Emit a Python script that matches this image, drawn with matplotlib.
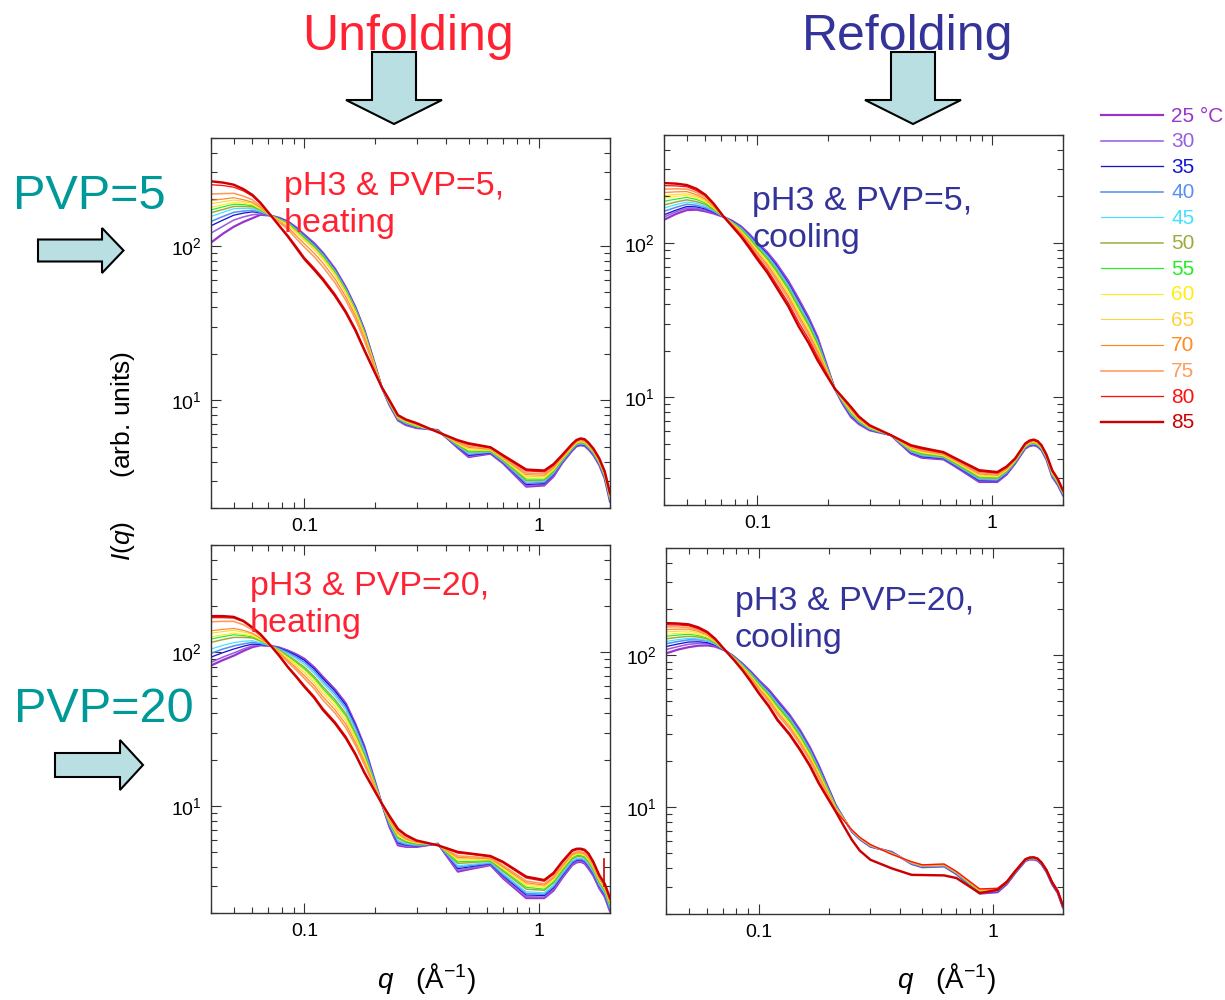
import numpy as np
import matplotlib
matplotlib.use('Agg')
import matplotlib.pyplot as plt
from matplotlib.patches import Polygon
from matplotlib.lines import Line2D
from matplotlib.transforms import Affine2D
from matplotlib.ticker import LogLocator, NullFormatter

plt.rcParams['font.family'] = ['Liberation Sans', 'DejaVu Sans']
plt.rcParams['mathtext.fontset'] = 'custom'
plt.rcParams['mathtext.rm'] = 'Liberation Sans'
plt.rcParams['mathtext.it'] = 'Liberation Sans:italic'

# temperature series (deg C) and their line styles
temps = [25, 30, 35, 40, 45, 50, 55, 60, 65, 70, 75, 80, 85]
colors = ['#9933cc', '#9a5fe0', '#1414d6', '#5b8ff5', '#44e0ff', '#a0aa3a', '#22ee22',
          '#ffee11', '#ffd23c', '#ff8a1e', '#ff9a5c', '#ff1010', '#cc0000']
widths = [2.2, 1.6, 1.3, 1.6, 1.2, 1.5, 1.2, 1.1, 1.1, 1.2, 1.6, 1.3, 2.4]  # px

# scattering vector q (1/A)
q = [0.04, 0.045, 0.05, 0.055, 0.06, 0.065, 0.072, 0.078, 0.085, 0.092, 0.1,
     0.11, 0.12, 0.135, 0.15, 0.165, 0.18, 0.195, 0.213, 0.23, 0.25, 0.27, 0.3,
     0.37, 0.45, 0.5, 0.62, 0.7, 0.88, 1.05, 1.15, 1.25, 1.38, 1.44, 1.5, 1.56,
     1.62, 1.7, 1.8, 1.9, 2.0]

# I(q): one row per q value, one column per temperature
heat5 = [
    [105, 121, 135, 144, 155, 164, 171, 178, 188, 197, 217, 249, 262],
    [120, 134, 147, 155, 165, 172, 179, 185, 193, 201, 218, 246, 257],
    [133, 147, 158, 165, 174, 180, 186, 191, 198, 205, 219, 240, 249],
    [143, 154, 163, 168, 175, 180, 185, 189, 194, 199, 210, 227, 233],
    [151, 159, 166, 170, 175, 179, 182, 185, 189, 192, 199, 210, 214],
    [159, 161, 164, 165, 167, 170, 171, 173, 175, 177, 181, 188, 190],
    [157, 157, 157, 157, 157, 157, 157, 157, 157, 157, 157, 157, 157],
    [152, 151, 151, 150, 149, 149, 148, 147, 146, 144, 142, 136, 135],
    [144, 143, 143, 142, 141, 140, 139, 138, 136, 132, 128, 117, 115],
    [132, 131, 130, 129, 128, 127, 126, 124, 122, 117, 112, 100, 97.5],
    [118, 117, 116, 115, 114, 113, 112, 110, 108, 103, 98, 84, 82],
    [104, 103, 102, 101, 100, 99, 98, 96.5, 94.5, 89.5, 85, 72, 70],
    [90, 89.3, 88.6, 87.8, 86.8, 85.7, 84.7, 83.3, 81.7, 77.2, 72.9, 61.7, 60],
    [71, 70.4, 69.9, 69.2, 68.4, 67.6, 66.8, 65.8, 64.5, 61, 57.7, 48.8, 47.4],
    [54, 53.6, 53.2, 52.8, 52.2, 51.6, 51, 50.3, 49.3, 46.8, 44.4, 38, 37],
    [40, 39.7, 39.5, 39.2, 38.8, 38.4, 38, 37.5, 36.8, 35.1, 33.4, 29, 28.2],
    [28.5, 28.3, 28.2, 28, 27.7, 27.5, 27.2, 26.9, 26.5, 25.4, 24.3, 21.5, 21],
    [19.2, 19.0, 18.9, 18.8, 18.7, 18.7, 18.6, 18.5, 18.3, 17.9, 17.5, 16.4, 16.2],
    [12.2, 12.2, 12.2, 12.2, 12.2, 12.2, 12.2, 12.2, 12.2, 12.2, 12.2, 12.2, 12.2],
    [9.3, 9.35, 9.4, 9.45, 9.5, 9.55, 9.6, 9.65, 9.7, 9.75, 9.8, 9.9, 10.0],
    [7.4, 7.43, 7.47, 7.52, 7.56, 7.61, 7.66, 7.71, 7.76, 7.82, 7.88, 7.96, 8.0],
    [6.9, 6.95, 7.0, 7.05, 7.1, 7.15, 7.2, 7.25, 7.3, 7.35, 7.4, 7.45, 7.5],
    [6.6, 6.63, 6.66, 6.7, 6.73, 6.77, 6.81, 6.85, 6.89, 6.94, 6.99, 7.05, 7.1],
    [6.4, 6.39, 6.38, 6.36, 6.34, 6.33, 6.31, 6.29, 6.28, 6.26, 6.24, 6.22, 6.2],
    [4.9, 4.92, 4.97, 5.01, 5.06, 5.1, 5.15, 5.2, 5.25, 5.31, 5.37, 5.44, 5.5],
    [4.28, 4.33, 4.39, 4.46, 4.53, 4.61, 4.68, 4.76, 4.84, 4.94, 5.04, 5.17, 5.25],
    [4.5, 4.53, 4.55, 4.59, 4.62, 4.66, 4.69, 4.73, 4.77, 4.81, 4.86, 4.91, 4.95],
    [3.9, 3.93, 3.96, 3.99, 4.03, 4.07, 4.11, 4.15, 4.19, 4.23, 4.28, 4.34, 4.4],
    [2.75, 2.79, 2.84, 2.89, 2.95, 3.01, 3.08, 3.14, 3.21, 3.29, 3.37, 3.48, 3.55],
    [2.8, 2.84, 2.88, 2.93, 2.98, 3.03, 3.08, 3.13, 3.19, 3.26, 3.34, 3.43, 3.5],
    [3.2, 3.25, 3.3, 3.34, 3.39, 3.44, 3.48, 3.53, 3.58, 3.64, 3.71, 3.78, 3.85],
    [3.9, 3.93, 3.96, 3.99, 4.03, 4.07, 4.11, 4.15, 4.19, 4.23, 4.28, 4.34, 4.4],
    [4.7, 4.73, 4.76, 4.8, 4.83, 4.87, 4.91, 4.95, 4.99, 5.04, 5.09, 5.15, 5.2],
    [5.02, 5.05, 5.08, 5.12, 5.16, 5.2, 5.24, 5.28, 5.32, 5.37, 5.42, 5.47, 5.52],
    [5.1, 5.13, 5.16, 5.2, 5.24, 5.29, 5.33, 5.37, 5.41, 5.47, 5.52, 5.58, 5.65],
    [5.05, 5.08, 5.11, 5.15, 5.19, 5.23, 5.27, 5.31, 5.35, 5.41, 5.46, 5.52, 5.58],
    [4.8, 4.83, 4.86, 4.9, 4.93, 4.97, 5.01, 5.05, 5.09, 5.14, 5.19, 5.24, 5.3],
    [4.4, 4.43, 4.46, 4.5, 4.53, 4.57, 4.6, 4.64, 4.67, 4.71, 4.75, 4.8, 4.85],
    [3.8, 3.82, 3.85, 3.88, 3.91, 3.94, 3.97, 4.0, 4.03, 4.07, 4.11, 4.16, 4.2],
    [3.1, 3.13, 3.15, 3.18, 3.2, 3.23, 3.25, 3.28, 3.3, 3.33, 3.36, 3.4, 3.45],
    [2.2, 2.22, 2.23, 2.26, 2.28, 2.3, 2.32, 2.34, 2.37, 2.4, 2.42, 2.46, 2.5],
]

cool5 = [
    [141, 147, 152, 160, 168, 176, 186, 195, 202, 212, 223, 235, 244],
    [154, 159, 163, 170, 177, 184, 192, 200, 206, 214, 224, 234, 242],
    [163, 168, 172, 178, 184, 190, 197, 203, 208, 215, 223, 231, 237],
    [164, 167, 171, 175, 180, 185, 191, 196, 200, 205, 212, 218, 224],
    [160, 163, 166, 169, 173, 177, 181, 185, 188, 192, 197, 202, 205],
    [155, 157, 158, 160, 162, 164, 166, 168, 170, 172, 175, 178, 180],
    [147, 147, 147, 147, 147, 147, 147, 147, 147, 147, 147, 147, 147],
    [139, 138, 138, 137, 136, 135.5, 135, 134, 133, 132, 131, 130, 128],
    [128, 127, 126.5, 125.3, 124.2, 122.9, 121.6, 120.1, 118.7, 116.9, 115.1, 112.5, 110],
    [114.5, 113.5, 112.5, 111, 110, 108.5, 107, 105, 103.5, 101.5, 99.5, 96.5, 93.5],
    [100, 99, 98, 96.6, 95.2, 93.5, 91.9, 90.1, 88.3, 86.1, 84, 81, 78],
    [86.9, 85.9, 84.8, 83.3, 81.9, 80.1, 78.4, 76.6, 74.7, 72.5, 70.3, 67.2, 64.3],
    [74, 73, 71.9, 70.4, 69, 67.3, 65.6, 63.8, 62, 59.9, 57.6, 54.6, 52],
    [57, 56.1, 55.2, 54, 52.8, 51.4, 50, 48.5, 47.1, 45.4, 43.6, 41.1, 39],
    [43, 42.3, 41.6, 40.6, 39.6, 38.5, 37.4, 36.2, 35.1, 33.7, 32.3, 30.4, 28.6],
    [32.9, 32.4, 31.8, 31.1, 30.5, 29.7, 28.9, 28.1, 27.2, 26.2, 25.2, 23.9, 22.5],
    [24.6, 24.3, 23.9, 23.4, 23, 22.4, 21.9, 21.3, 20.7, 20, 19.3, 18.4, 17.4],
    [17.05, 16.95, 16.8, 16.6, 16.45, 16.2, 16, 15.8, 15.6, 15.3, 15, 14.65, 14.2],
    [11.4, 11.4, 11.4, 11.4, 11.4, 11.4, 11.4, 11.4, 11.4, 11.4, 11.4, 11.4, 11.4],
    [9.1, 9.17, 9.24, 9.31, 9.38, 9.45, 9.52, 9.59, 9.66, 9.74, 9.83, 9.92, 10.0],
    [7.45, 7.52, 7.58, 7.68, 7.77, 7.86, 7.96, 8.05, 8.15, 8.27, 8.4, 8.52, 8.65],
    [6.7, 6.76, 6.82, 6.88, 6.94, 7.0, 7.06, 7.12, 7.18, 7.25, 7.32, 7.41, 7.5],
    [6.1, 6.13, 6.15, 6.19, 6.23, 6.27, 6.3, 6.34, 6.38, 6.43, 6.48, 6.53, 6.58],
    [5.67, 5.67, 5.67, 5.67, 5.67, 5.67, 5.67, 5.67, 5.67, 5.67, 5.67, 5.67, 5.67],
    [4.31, 4.34, 4.37, 4.42, 4.46, 4.51, 4.55, 4.6, 4.64, 4.7, 4.76, 4.82, 4.88],
    [4.05, 4.09, 4.12, 4.17, 4.22, 4.27, 4.32, 4.37, 4.42, 4.49, 4.55, 4.62, 4.7],
    [3.95, 3.98, 4.0, 4.04, 4.07, 4.1, 4.14, 4.17, 4.21, 4.25, 4.3, 4.35, 4.4],
    [3.53, 3.56, 3.58, 3.62, 3.66, 3.69, 3.73, 3.77, 3.8, 3.85, 3.9, 3.95, 4.0],
    [2.82, 2.85, 2.88, 2.92, 2.96, 3.0, 3.04, 3.08, 3.12, 3.18, 3.23, 3.3, 3.36],
    [2.82, 2.85, 2.87, 2.9, 2.94, 2.97, 3.01, 3.04, 3.08, 3.12, 3.17, 3.22, 3.27],
    [3.15, 3.18, 3.2, 3.23, 3.26, 3.29, 3.32, 3.35, 3.38, 3.42, 3.46, 3.5, 3.55],
    [3.71, 3.73, 3.74, 3.77, 3.79, 3.81, 3.83, 3.86, 3.88, 3.91, 3.94, 3.97, 4.0],
    [4.64, 4.66, 4.68, 4.71, 4.74, 4.76, 4.79, 4.82, 4.85, 4.88, 4.92, 4.96, 5.0],
    [4.82, 4.85, 4.88, 4.91, 4.94, 4.97, 5.0, 5.03, 5.06, 5.1, 5.14, 5.19, 5.23],
    [4.88, 4.9, 4.93, 4.96, 5.0, 5.03, 5.06, 5.1, 5.13, 5.17, 5.22, 5.26, 5.31],
    [4.78, 4.81, 4.84, 4.87, 4.9, 4.93, 4.96, 4.99, 5.02, 5.06, 5.1, 5.15, 5.19],
    [4.53, 4.55, 4.57, 4.6, 4.62, 4.65, 4.67, 4.7, 4.73, 4.77, 4.8, 4.84, 4.88],
    [3.95, 3.97, 3.99, 4.01, 4.04, 4.06, 4.09, 4.11, 4.14, 4.17, 4.2, 4.22, 4.25],
    [3.04, 3.06, 3.08, 3.1, 3.13, 3.15, 3.17, 3.2, 3.23, 3.26, 3.29, 3.33, 3.36],
    [2.7, 2.72, 2.74, 2.76, 2.78, 2.8, 2.82, 2.84, 2.86, 2.88, 2.9, 2.92, 2.95],
    [2.31, 2.32, 2.33, 2.35, 2.36, 2.37, 2.39, 2.4, 2.42, 2.43, 2.45, 2.47, 2.49],
]

heat20 = [
    [82, 86, 93, 98.5, 105, 116, 122, 126, 133, 138, 158, 168, 172],
    [89, 93, 99.5, 105, 111, 121, 126.5, 130, 136.5, 141, 159, 168, 172],
    [95, 99, 105, 110, 115.5, 125, 130, 133, 139, 143, 159, 167, 170],
    [102, 105, 109.5, 113.5, 118, 125, 128.5, 131, 135.5, 139, 151, 158, 160],
    [108, 110, 113, 116, 119, 124, 126, 128, 131, 133, 140, 144, 145],
    [111, 112, 112.5, 114, 115.5, 118.5, 119.5, 120.5, 122.5, 123.5, 127.5, 130, 131],
    [110, 110, 110, 110, 110, 110, 110, 110, 110, 110, 110, 110, 110],
    [107.5, 107, 106.5, 105.5, 104.5, 103.3, 102.5, 101.8, 100.8, 99.6, 98.3, 95.5, 95],
    [102.6, 101.8, 101.3, 99.6, 97.6, 95.2, 93.8, 92.4, 90.6, 88.4, 86.2, 81, 80],
    [97.3, 96.2, 95.5, 93.3, 90.9, 87.8, 86.1, 84.4, 82.2, 79.5, 76.9, 70.7, 69.5],
    [90.6, 89.5, 88.7, 86.1, 83.3, 79.9, 77.9, 75.9, 73.4, 70.4, 67.5, 60.8, 59.5],
    [79.9, 78.8, 78, 75.6, 72.9, 69.6, 67.7, 65.8, 63.4, 60.6, 57.9, 51.7, 50.5],
    [69, 68, 67.3, 65, 62.5, 59.5, 57.7, 56, 53.8, 51.2, 48.7, 43.1, 42],
    [57.2, 56.4, 55.8, 53.8, 51.7, 49.2, 47.6, 46.2, 44.3, 42.1, 40.1, 35.3, 34.4],
    [46.5, 45.8, 45.3, 43.7, 41.9, 39.8, 38.5, 37.4, 35.8, 34, 32.3, 28.4, 27.6],
    [34, 33.5, 33.2, 32.2, 31, 29.7, 28.8, 28.1, 27, 25.8, 24.7, 22, 21.5],
    [24.4, 24.1, 23.9, 23.3, 22.5, 21.7, 21.1, 20.7, 20, 19.2, 18.5, 16.7, 16.4],
    [16.25, 16.15, 16.05, 15.9, 15.6, 15.3, 15.05, 14.9, 14.65, 14.35, 14.05, 13.3, 13.2],
    [10.4, 10.4, 10.4, 10.4, 10.4, 10.4, 10.4, 10.4, 10.4, 10.4, 10.4, 10.4, 10.4],
    [7.3, 7.35, 7.45, 7.53, 7.62, 7.75, 7.84, 7.93, 8.02, 8.11, 8.2, 8.45, 8.6],
    [5.52, 5.6, 5.73, 5.83, 5.95, 6.13, 6.25, 6.37, 6.48, 6.6, 6.73, 6.97, 7.07],
    [5.4, 5.45, 5.54, 5.6, 5.68, 5.79, 5.86, 5.94, 6.01, 6.08, 6.16, 6.35, 6.45],
    [5.39, 5.42, 5.47, 5.51, 5.55, 5.61, 5.66, 5.7, 5.74, 5.78, 5.82, 5.9, 5.94],
    [5.66, 5.65, 5.64, 5.63, 5.62, 5.6, 5.59, 5.58, 5.57, 5.56, 5.55, 5.53, 5.52],
    [3.72, 3.79, 3.89, 3.97, 4.07, 4.21, 4.31, 4.42, 4.51, 4.6, 4.71, 4.91, 5.0],
    [3.85, 3.91, 3.99, 4.06, 4.13, 4.25, 4.34, 4.44, 4.51, 4.58, 4.67, 4.84, 4.9],
    [4.1, 4.13, 4.19, 4.23, 4.27, 4.35, 4.39, 4.44, 4.48, 4.52, 4.57, 4.65, 4.7],
    [3.37, 3.42, 3.5, 3.56, 3.63, 3.74, 3.81, 3.89, 3.95, 4.01, 4.09, 4.25, 4.31],
    [2.5, 2.55, 2.62, 2.68, 2.75, 2.86, 2.94, 3.01, 3.08, 3.15, 3.23, 3.38, 3.45],
    [2.5, 2.54, 2.6, 2.65, 2.71, 2.81, 2.86, 2.93, 2.99, 3.04, 3.1, 3.22, 3.28],
    [2.8, 2.85, 2.92, 2.98, 3.04, 3.14, 3.2, 3.27, 3.33, 3.39, 3.45, 3.58, 3.65],
    [3.37, 3.42, 3.5, 3.56, 3.63, 3.74, 3.81, 3.89, 3.95, 4.01, 4.09, 4.25, 4.31],
    [4.1, 4.15, 4.24, 4.3, 4.38, 4.5, 4.58, 4.66, 4.73, 4.8, 4.88, 5.04, 5.12],
    [4.27, 4.32, 4.4, 4.46, 4.54, 4.65, 4.73, 4.81, 4.87, 4.93, 5.0, 5.16, 5.24],
    [4.31, 4.36, 4.44, 4.5, 4.57, 4.68, 4.75, 4.83, 4.89, 4.94, 5.01, 5.17, 5.25],
    [4.2, 4.25, 4.33, 4.39, 4.46, 4.57, 4.65, 4.73, 4.79, 4.85, 4.92, 5.08, 5.16],
    [3.9, 3.95, 4.03, 4.09, 4.17, 4.28, 4.36, 4.44, 4.5, 4.57, 4.65, 4.81, 4.88],
    [3.5, 3.54, 3.6, 3.65, 3.71, 3.8, 3.86, 3.92, 3.97, 4.02, 4.08, 4.22, 4.3],
    [2.9, 2.93, 2.99, 3.03, 3.08, 3.15, 3.2, 3.25, 3.3, 3.34, 3.39, 3.49, 3.53],
    [2.55, 2.58, 2.63, 2.67, 2.71, 2.78, 2.82, 2.87, 2.91, 2.95, 3.0, 3.05, 3.1],
    [2.05, 2.07, 2.11, 2.14, 2.17, 2.23, 2.26, 2.3, 2.33, 2.36, 2.4, 2.47, 2.5],
]
# short glitch on the 85 C heating run near q = 1.9
spike_q = [1.88, 1.88]
spike_I = [4.5, 3.0]

cool20 = [
    [102, 108, 113, 118, 122, 127, 132, 136, 141, 146, 152, 157, 161],
    [108, 113, 117.5, 122, 125.5, 130, 134.5, 138, 142.5, 147, 152, 156.5, 160],
    [112, 117, 121, 125, 128, 132, 136, 139, 143, 147, 151, 155, 158],
    [114.5, 118.5, 121.5, 125, 127, 130.5, 133.5, 136, 139, 142, 145, 148, 151],
    [115, 118, 120, 123, 124, 127, 129, 130.5, 133, 135, 137, 139, 141],
    [113, 114.5, 115.5, 117, 117.5, 119, 120, 121, 122, 123, 124, 125.5, 127],
    [106, 106, 106, 106, 106, 106, 106, 106, 106, 106, 106, 106, 106],
    [97.5, 97.2, 97, 96.6, 96.3, 95.9, 95.6, 95.2, 94.8, 94.3, 93.8, 92.9, 92.5],
    [87.3, 87, 86.6, 86.1, 85.6, 85, 84.4, 83.7, 83, 82.2, 81.2, 79.6, 79],
    [77.8, 77.4, 76.9, 76.2, 75.6, 74.8, 74, 73.1, 72.2, 71.1, 69.9, 67.9, 67],
    [67.9, 67.4, 66.8, 66, 65.2, 64.3, 63.4, 62.4, 61.4, 60.2, 58.8, 56.5, 55.6],
    [59, 58.4, 57.8, 57, 56.1, 55.2, 54.2, 53.1, 52.1, 50.8, 49.3, 46.9, 45.9],
    [50.3, 49.7, 49.1, 48.2, 47.4, 46.4, 45.4, 44.3, 43.3, 42, 40.5, 38.1, 37.2],
    [40.5, 40, 39.5, 38.9, 38.2, 37.4, 36.6, 35.7, 34.9, 33.8, 32.7, 30.7, 30],
    [32, 31.6, 31.2, 30.7, 30.1, 29.5, 28.9, 28.2, 27.5, 26.7, 25.8, 24.3, 23.7],
    [24.8, 24.5, 24.3, 23.9, 23.4, 23, 22.5, 22, 21.5, 20.9, 20.2, 19.1, 18.7],
    [18.9, 18.7, 18.5, 18.2, 17.9, 17.6, 17.2, 16.9, 16.5, 16.1, 15.5, 14.7, 14.4],
    [14.2, 14.08, 13.98, 13.82, 13.66, 13.5, 13.29, 13.12, 12.9, 12.68, 12.36, 11.91, 11.73],
    [10.35, 10.31, 10.27, 10.21, 10.15, 10.08, 10, 9.93, 9.85, 9.75, 9.64, 9.45, 9.37],
    [8.5, 8.52, 8.51, 8.5, 8.48, 8.46, 8.44, 8.42, 8.39, 8.36, 8.31, 8.24, 7.6],
    [6.92, 6.94, 6.95, 6.97, 6.98, 7.0, 7.02, 7.04, 7.05, 7.07, 7.08, 7.1, 6.11],
    [6.18, 6.2, 6.21, 6.23, 6.24, 6.26, 6.28, 6.3, 6.31, 6.33, 6.34, 6.36, 5.2],
    [5.52, 5.54, 5.55, 5.57, 5.58, 5.6, 5.62, 5.64, 5.65, 5.67, 5.68, 5.7, 4.53],
    [5.1, 5.08, 5.07, 5.05, 5.03, 5.02, 5.0, 4.98, 4.97, 4.95, 4.93, 4.92, 3.98],
    [4.25, 4.26, 4.28, 4.29, 4.3, 4.32, 4.33, 4.35, 4.36, 4.37, 4.39, 4.4, 3.61],
    [4.05, 4.06, 4.08, 4.09, 4.1, 4.12, 4.13, 4.15, 4.16, 4.17, 4.19, 4.2, 3.6],
    [4.1, 4.11, 4.13, 4.14, 4.15, 4.17, 4.18, 4.2, 4.21, 4.22, 4.24, 4.25, 3.58],
    [3.65, 3.66, 3.68, 3.69, 3.7, 3.72, 3.73, 3.75, 3.76, 3.77, 3.79, 3.8, 3.44],
    [2.72, 2.74, 2.76, 2.77, 2.79, 2.81, 2.83, 2.85, 2.87, 2.88, 2.9, 2.92, 2.74],
    [2.78, 2.8, 2.81, 2.83, 2.84, 2.86, 2.87, 2.89, 2.9, 2.92, 2.93, 2.95, 2.88],
    [3.14, 3.15, 3.16, 3.18, 3.19, 3.2, 3.21, 3.23, 3.24, 3.25, 3.27, 3.29, 3.24],
    [3.72, 3.73, 3.74, 3.76, 3.77, 3.78, 3.79, 3.81, 3.82, 3.83, 3.84, 3.85, 3.82],
    [4.45, 4.46, 4.48, 4.49, 4.5, 4.52, 4.53, 4.55, 4.56, 4.57, 4.59, 4.6, 4.56],
    [4.55, 4.56, 4.58, 4.6, 4.61, 4.62, 4.64, 4.65, 4.66, 4.68, 4.69, 4.71, 4.68],
    [4.55, 4.57, 4.58, 4.6, 4.61, 4.63, 4.64, 4.66, 4.67, 4.69, 4.7, 4.72, 4.7],
    [4.47, 4.48, 4.5, 4.51, 4.53, 4.54, 4.56, 4.57, 4.58, 4.6, 4.61, 4.63, 4.6],
    [4.22, 4.23, 4.25, 4.26, 4.28, 4.29, 4.31, 4.32, 4.34, 4.35, 4.37, 4.38, 4.33],
    [3.77, 3.78, 3.79, 3.81, 3.82, 3.84, 3.85, 3.86, 3.88, 3.89, 3.9, 3.92, 3.87],
    [3.12, 3.13, 3.14, 3.16, 3.17, 3.18, 3.19, 3.21, 3.22, 3.23, 3.24, 3.25, 3.2],
    [2.74, 2.75, 2.76, 2.77, 2.78, 2.79, 2.8, 2.81, 2.82, 2.83, 2.84, 2.85, 2.81],
    [2.2, 2.21, 2.21, 2.22, 2.23, 2.24, 2.24, 2.25, 2.26, 2.27, 2.27, 2.28, 2.26],
]

RED = '#ff2233'
BLUE = '#333399'
TEAL = '#009999'
ARROW = '#b9dfe2'
AXC = '#333333'

fig = plt.figure(figsize=(12.25, 10), dpi=100)
# pixel coordinates measured from the top-left corner of the figure
px = Affine2D().scale(0.01, -0.01).translate(0, 10) + fig.dpi_scale_trans

# (data, box l/t/r/b in px, annotation, colour, baseline of the annotation's last line)
panels = [
    (heat5, (211, 138, 610, 508), 'pH3 & PVP=5,\nheating', RED, (284, 232)),
    (cool5, (664, 135, 1063, 505), 'pH3 & PVP=5,\ncooling', BLUE, (752, 247)),
    (heat20, (211, 545, 610, 913), 'pH3 & PVP=20,\nheating', RED, (250, 632)),
    (cool20, (666, 548, 1063, 914), 'pH3 & PVP=20,\ncooling', BLUE, (735, 647)),
]

for k, (data, (l, t, r, b), note, ncol, (tx, ty)) in enumerate(panels):
    ax = fig.add_axes([l / 1225, 1 - b / 1000, (r - l) / 1225, (b - t) / 1000])
    I = np.array(data)
    for j in range(len(temps)):
        ax.plot(q, I[:, j], color=colors[j], lw=widths[j] * 0.72)
    if k == 2:
        ax.plot(spike_q, spike_I, color=colors[-1], lw=1.2)
    ax.set_xscale('log')
    ax.set_yscale('log')
    ax.set_xlim(0.04, 2.0)
    ax.set_ylim(2, 500)
    ax.set_xticks([0.1, 1])
    ax.set_xticklabels(['0.1', '1'])
    ax.set_yticks([10, 100])
    ax.set_yticklabels([r'$10^{1}$', r'$10^{2}$'])
    ax.xaxis.set_minor_locator(LogLocator(subs=np.arange(2, 10)))
    ax.yaxis.set_minor_locator(LogLocator(subs=np.arange(2, 10)))
    ax.xaxis.set_minor_formatter(NullFormatter())
    ax.yaxis.set_minor_formatter(NullFormatter())
    ax.tick_params(which='both', direction='in', top=True, right=True,
                   color=AXC, width=0.8, labelsize=14)
    ax.tick_params(which='major', length=7.5, pad=7)
    ax.tick_params(which='minor', length=4)
    for s in ax.spines.values():
        s.set_color(AXC)
        s.set_linewidth(1.0)
    fig.text(tx, ty, note, transform=px, color=ncol, fontsize=24.5,
             ha='left', va='baseline', linespacing=1.24)

# column titles
fig.text(408, 49.5, 'Unfolding', transform=px, color=RED, fontsize=36,
         ha='center', va='baseline')
fig.text(908, 49.5, 'Refolding', transform=px, color=BLUE, fontsize=36,
         ha='center', va='baseline')

# row labels
fig.text(13, 209, 'PVP=5', transform=px, color=TEAL, fontsize=35,
         ha='left', va='baseline')
fig.text(14, 722, 'PVP=20', transform=px, color=TEAL, fontsize=35,
         ha='left', va='baseline')


def down_arrow(cx, top, neck, tip, half, head):
    pts = [(cx - half, top), (cx + half, top), (cx + half, neck), (cx + head, neck),
           (cx, tip), (cx - head, neck), (cx - half, neck)]
    fig.add_artist(Polygon(pts, closed=True, transform=px, facecolor=ARROW,
                           edgecolor='black', lw=1.5))


def right_arrow(cy, left, neck, tip, half, head):
    pts = [(left, cy - half), (neck, cy - half), (neck, cy - head), (tip, cy),
           (neck, cy + head), (neck, cy + half), (left, cy + half)]
    fig.add_artist(Polygon(pts, closed=True, transform=px, facecolor=ARROW,
                           edgecolor='black', lw=1.5))


down_arrow(394, 52, 100, 124, 22, 48)
down_arrow(913, 52, 100, 124, 22, 48)
right_arrow(250.5, 38, 102, 123.5, 11, 22.5)
right_arrow(765, 55, 120, 143, 12, 25)

# axis titles
fig.text(427, 988, r'$q$   (Å$^{-1}$)', transform=px, fontsize=20,
         ha='center', va='baseline')
fig.text(947, 988, r'$q$   (Å$^{-1}$)', transform=px, fontsize=20,
         ha='center', va='baseline')
fig.text(123, 456, r'$I$($q$)      (arb. units)', transform=px, fontsize=19,
         rotation=90, ha='center', va='center')

# temperature key
for i, t in enumerate(temps):
    y = 115 + 25.55 * i
    fig.add_artist(Line2D([1101, 1163], [y, y], transform=px, color=colors[i],
                          lw=widths[i] * 0.72))
    fig.text(1171, y + 1, f'{t} °C' if i == 0 else str(t), transform=px,
             color=colors[i], fontsize=15, ha='left', va='center')

fig.savefig('out.png', dpi=100)
